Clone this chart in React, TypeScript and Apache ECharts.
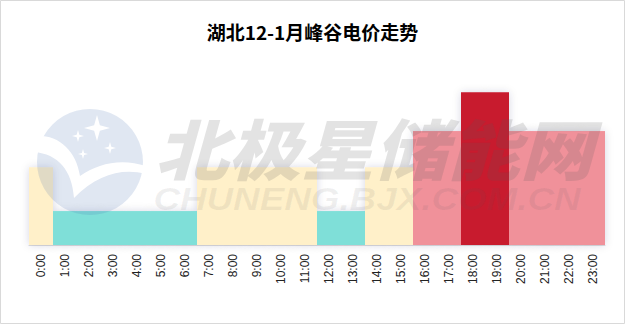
import React, { useEffect, useRef } from "react";
import * as echarts from "echarts";

const hours = [
  "0:00", "1:00", "2:00", "3:00", "4:00", "5:00", "6:00", "7:00", "8:00", "9:00", "10:00", "11:00",
  "12:00", "13:00", "14:00", "15:00", "16:00", "17:00", "18:00", "19:00", "20:00", "21:00", "22:00", "23:00",
];
const periods = [
  "flat", "valley", "valley", "valley", "valley", "valley", "valley", "flat", "flat", "flat", "flat", "flat",
  "valley", "valley", "flat", "flat", "peak", "peak", "sharp", "sharp", "peak", "peak", "peak", "peak",
];
const prices = [
  0.62, 0.27, 0.27, 0.27, 0.27, 0.27, 0.27, 0.62, 0.62, 0.62, 0.62, 0.62,
  0.27, 0.27, 0.62, 0.62, 0.91, 0.91, 1.22, 1.22, 0.91, 0.91, 0.91, 0.91,
];
const periodColors: Record<string, string> = {
  flat: "#FFF0C9",
  valley: "#7FDFD8",
  peak: "#F0919A",
  sharp: "#C81B2E",
};
const titleText = "湖北12-1月峰谷电价走势";

function starPoints(cx: number, cy: number, r: number): number[][] {
  const k = 0.22 * r;
  return [
    [cx, cy - r], [cx + k, cy - k], [cx + r, cy], [cx + k, cy + k],
    [cx, cy + r], [cx - k, cy + k], [cx - r, cy], [cx - k, cy - k],
  ];
}

export default function App() {
  const ref = useRef<HTMLDivElement>(null);
  useEffect(() => {
    if (!ref.current) return;
    const swooshD =
      "M34,136 C58,134 76,150 80,176 C98,163 122,158 146,166 L146,174 C122,168 98,174 74,198 C72,170 58,154 34,152 Z";
    echarts.graphic.registerShape("swooshPath", echarts.graphic.extendPath(swooshD, {}) as any);
    const chart = echarts.init(ref.current, undefined, { renderer: "svg" });
    const stars = [
      [97, 128, 13],
      [78, 136, 6],
      [110, 148, 6],
      [83, 154, 5],
    ];
    chart.setOption({
      animation: false,
      backgroundColor: "#fff",
      title: {
        text: titleText,
        left: "center",
        top: 17,
        textStyle: {
          fontSize: 19,
          fontWeight: "bold",
          color: "#000",
          fontFamily: '"Noto Sans CJK SC", sans-serif',
        },
      },
      grid: { left: 29, right: 20, top: 70, bottom: 79 },
      xAxis: {
        type: "category",
        data: hours,
        axisLine: { lineStyle: { color: "#ddd" } },
        axisTick: { lineStyle: { color: "#ddd" }, length: 5 },
        axisLabel: {
          rotate: 90,
          interval: 0,
          margin: 9,
          fontSize: 12,
          color: "#222",
          fontFamily: '"Liberation Sans", Arial, sans-serif',
        },
      },
      yAxis: {
        type: "value",
        min: 0,
        max: 1.4,
        show: false,
        splitLine: { show: false },
      },
      series: [
        {
          type: "bar",
          barCategoryGap: 0,
          barGap: "-100%",
          silent: true,
          data: prices.map((v, i) => ({
            value: v,
            itemStyle: {
              color: periodColors[periods[i]],
              shadowBlur: 8,
              shadowColor: "rgba(30,40,90,0.16)",
            },
          })),
        },
        {
          type: "bar",
          barCategoryGap: 0,
          barGap: "-100%",
          data: prices.map((v, i) => ({
            value: v,
            itemStyle: { color: periodColors[periods[i]] },
          })),
        },
      ],
      graphic: [
        {
          type: "circle",
          z: 100,
          shape: { cx: 90, cy: 162, r: 53 },
          style: { fill: "rgba(70,110,180,0.17)" },
          silent: true,
        },
        {
          type: "swooshPath",
          z: 101,
          x: 0,
          y: 0,
          style: { fill: "#fff" },
          silent: true,
        },
        ...stars.map((s) => ({
          type: "polygon",
          z: 101,
          shape: { points: starPoints(s[0], s[1], s[2]) },
          style: { fill: "#fff" },
          silent: true,
        })),
        {
          type: "text",
          z: 102,
          x: 374,
          y: 146,
          scaleY: 0.9,
          style: {
            text: "北极星储能网",
            fontSize: 73,
            fontWeight: 900,
            fontStyle: "italic",
            fontFamily: '"Noto Sans CJK SC", sans-serif',
            fill: "rgba(90,90,90,0.17)",
            align: "center",
            verticalAlign: "middle",
          },
          silent: true,
        },
        {
          type: "text",
          z: 102,
          x: 367,
          y: 199,
          scaleX: 1.15,
          style: {
            text: "CHUNENG.BJX.COM.CN",
            fontSize: 32,
            fontWeight: "bold",
            fontStyle: "italic",
            fontFamily: '"Liberation Sans", Arial, sans-serif',
            fill: "rgba(90,90,90,0.09)",
            align: "center",
            verticalAlign: "middle",
          },
          silent: true,
        },
        {
          type: "rect",
          z: 103,
          shape: { x: 0.5, y: 0.5, width: 624, height: 323 },
          style: { fill: "none", stroke: "#d9d9d9", lineWidth: 1 },
          silent: true,
        },
      ],
    });
    return () => chart.dispose();
  }, []);
  return (
    <div
      ref={ref}
      style={{ position: "absolute", left: 0, top: 0, width: 625, height: 324 }}
    />
  );
}
